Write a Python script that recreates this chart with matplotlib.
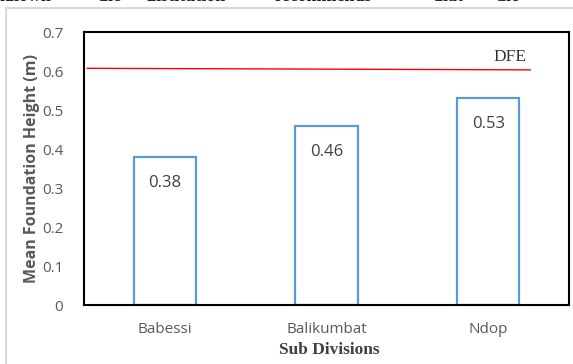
import matplotlib.pyplot as plt
from matplotlib.lines import Line2D

# mean foundation height per sub division
divisions = ['Babessi', 'Balikumbat', 'Ndop']
heights = [0.38, 0.46, 0.53]
# design flood elevation line (start, end)
dfe = [0.607, 0.603]
yticks = [0, 0.1, 0.2, 0.3, 0.4, 0.5, 0.6, 0.7]
# words of the body text above the chart
top_words = ['known', 'the', 'institution', 'recommends', 'that', 'the']
top_x = [0.0, 0.17, 0.255, 0.48, 0.755, 0.865]

fig = plt.figure(figsize=(5.73, 3.64), dpi=100)
ax = fig.add_axes([0.1466, 0.162, 0.8464, 0.75])

x = range(len(divisions))
ax.bar(x, heights, width=0.385, color='white', edgecolor='#5b9bd5', linewidth=1.6)
for i, h in zip(x, heights):
    ax.text(i, h - 0.067, f'{h:.2f}', ha='center', va='center',
            fontsize=12, color='#404040', family='Open Sans')

ax.plot([-0.48, 2.26], dfe, color='red', linewidth=1)
ax.text(2.135, 0.636, 'DFE', ha='center', va='center', fontsize=12.5,
        family='Liberation Serif', color='#333333')

ax.set_xlim(-0.5, 2.5)
ax.set_ylim(0, 0.7)
ax.set_yticks(yticks)
ax.set_yticklabels([f'{t:g}' for t in yticks])
ax.set_xticks(list(x))
ax.set_xticklabels(divisions)
ax.tick_params(length=0, labelsize=11, labelcolor='#595959')
ax.tick_params(axis='y', pad=15)
ax.tick_params(axis='x', pad=12)
for lab in ax.get_xticklabels() + ax.get_yticklabels():
    lab.set_family('Open Sans')
for s in ax.spines.values():
    s.set_linewidth(1.5)
    s.set_color('black')

ax.set_ylabel('Mean Foundation Height (m)', fontsize=11.5, fontweight='bold',
              color='#595959', family='Open Sans', labelpad=1)
fig.text(0.574, 0.038, 'Sub Divisions', ha='center', va='center', fontsize=12.5,
         fontweight='bold', family='Liberation Serif', color='#404040')

# grey frame around the chart
fig.add_artist(Line2D([0.0105, 0.0105], [0.978, 0], color='#d9d9d9', linewidth=1.5))
fig.add_artist(Line2D([0.0105, 1.0], [0.978, 0.978], color='#d9d9d9', linewidth=1.5))

for w, px in zip(top_words, top_x):
    fig.text(px, 0.998, w, fontsize=13, fontweight='bold',
             family='Liberation Serif', color='#222222', va='baseline')

fig.savefig('out.png', dpi=100)
